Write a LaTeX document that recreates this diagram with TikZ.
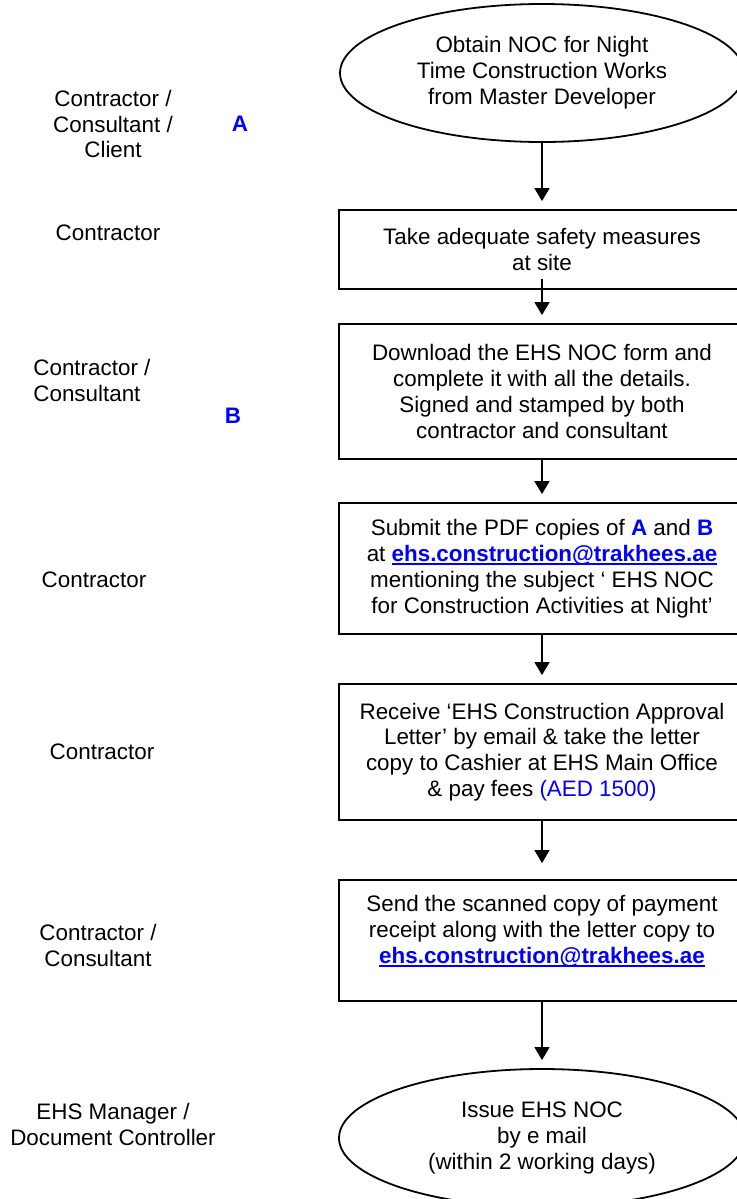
\documentclass[tikz,border=0pt]{standalone}
\usepackage{fontspec}
\setmainfont{Liberation Sans}
\usetikzlibrary{arrows.meta}
\usetikzlibrary{shapes.geometric}
\definecolor{linkblue}{RGB}{0,0,255}
\newcommand\mylink[1]{\textcolor{linkblue}{\bfseries\setbox0\hbox{#1}\rlap{\rule[-1.7pt]{\wd0}{0.8pt}}\box0}}
\newcommand\myref[1]{\textcolor{linkblue}{\textbf{#1}}}
\def\stepX{542}
\def\roleX{113}

\begin{document}
\begin{tikzpicture}[
    x=0.5pt, y=-0.5pt,
    font=\fontsize{11.2}{12.9}\selectfont,
    arrowtip/.style={
      -{Triangle[width=7.5pt,length=6.5pt]},
      line width=0.7pt,
      shorten >=4pt
    },
    stepbox/.style={
      draw, line width=0.9pt, rectangle,
      minimum width=203pt, inner sep=0pt, align=center
    },
    terminal/.style={
      draw, line width=0.9pt, ellipse,
      minimum width=202pt, minimum height=69pt, inner sep=0pt, align=center
    },
    role/.style={
      inner sep=0pt, align=center
    },
    refmark/.style={
      text=linkblue, font=\fontsize{11.2}{12.9}\selectfont\bfseries
    }
  ]
    \useasboundingbox (0,0) rectangle (737,1199);
    \clip (0,0) rectangle (737,1199);

    % right steps
    \node[terminal] (Obtain) at (\stepX,73) {Obtain NOC for Night\\Time Construction Works\\from Master Developer};
    \node[stepbox, minimum height=39.5pt] (Safety)   at (\stepX,249.5) {Take adequate safety measures\\at site};
    \node[stepbox, minimum height=67.5pt] (Download) at (\stepX,391.5) {Download the EHS NOC form and\\complete it with all the details.\\Signed and stamped by both\\contractor and consultant};
    \node[stepbox, minimum height=65.5pt] (Submit)   at (\stepX,568.5) {Submit the PDF copies of \myref{A} and \myref{B}\\at \mylink{ehs.construction@trakhees.ae}\\mentioning the subject ‘ EHS NOC\\for Construction Activities at Night’};
    \node[stepbox, minimum height=68pt]   (Receive)  at (\stepX,752) {Receive ‘EHS Construction Approval\\Letter’ by email \& take the letter\\copy to Cashier at EHS Main Office\\\& pay fees \textcolor{linkblue}{(AED 1500)}};
    \node[stepbox, minimum height=60.5pt] (Send)     at (\stepX,940.5) {Send the scanned copy of payment\\receipt along with the letter copy to\\\mylink{ehs.construction@trakhees.ae}\\[-2pt]\mbox{}};
    \node[terminal, minimum width=203pt, minimum height=69pt] (Issue) at (\stepX,1138) {Issue EHS NOC\\by e mail\\(within 2 working days)};

    % left roles
    \node[role] (RoleA) at (\roleX,124) {Contractor /\\Consultant /\\Client};
    \node[role] (RoleB) at (108,233) {Contractor};
    \node[role, anchor=west, align=left] (RoleC) at (33,380.5) {Contractor /\\Consultant};
    \node[role] (RoleD) at (94,580) {Contractor};
    \node[role] (RoleE) at (102,752) {Contractor};
    \node[role] (RoleF) at (98,945.5) {Contractor /\\Consultant};
    \node[role] (RoleG) at (\roleX,1124.5) {EHS Manager /\\Document Controller};

    \node[refmark] (MarkA) at (240,124) {A};
    \node[refmark] (MarkB) at (233,416) {B};

    % arrows
    \draw[arrowtip]                    (Obtain.south)   -- (Safety.north);
    \draw[arrowtip, shorten <=-5.5pt]  (Safety.south)   -- (Download.north);
    \draw[arrowtip]                    (Download.south) -- (Submit.north);
    \draw[arrowtip]                    (Submit.south)   -- (Receive.north);
    \draw[arrowtip, shorten >=8pt]     (Receive.south)  -- (Send.north);
    \draw[arrowtip]                    (Send.south)     -- (Issue.north);
  \end{tikzpicture}
\end{document}
